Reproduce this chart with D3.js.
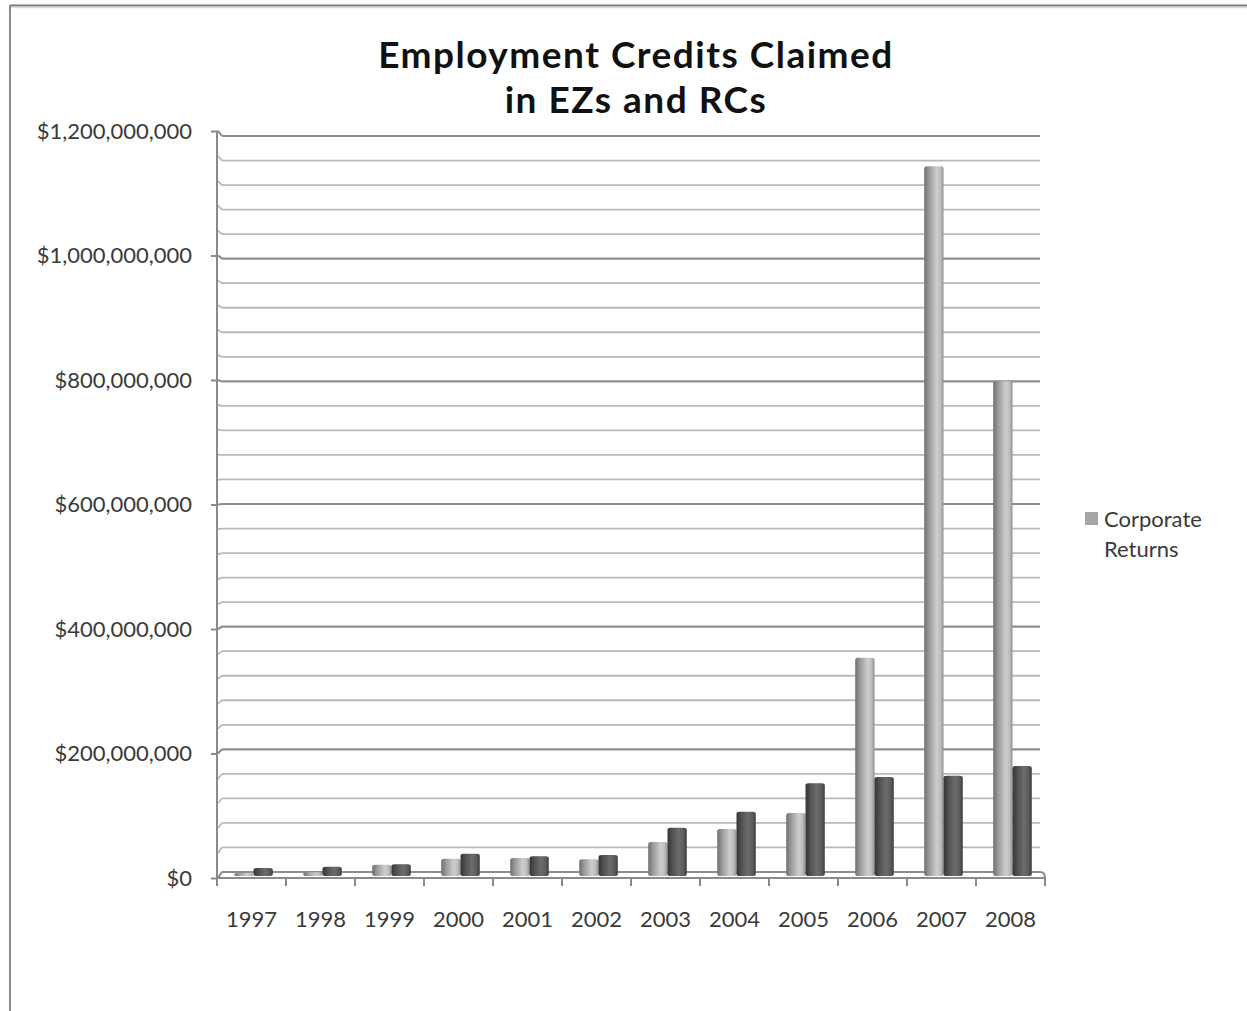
<!DOCTYPE html>
<html>
<head>
<meta charset="utf-8">
<script src="https://cdn.jsdelivr.net/npm/d3@7"></script>
<style>
html,body{margin:0;padding:0;background:#fff;}
svg{display:block;}
</style>
</head>
<body>
<svg id="chart" width="1247" height="1011"></svg>
<script>
const years = ["1997","1998","1999","2000","2001","2002","2003","2004","2005","2006","2007","2008"];
const corporateReturns = [5e6, 6e6, 18e6, 28e6, 29e6, 27e6, 55e6, 76e6, 102e6, 353e6, 1148e6, 800e6];
const otherReturns = [13e6, 15e6, 19e6, 36e6, 32e6, 34e6, 78e6, 104e6, 150e6, 160e6, 162e6, 178e6];
const yTickValues = [0, 200e6, 400e6, 600e6, 800e6, 1000e6, 1200e6];
const gridValues = d3.range(0, 1200e6 + 1, 40e6);
const titleLines = ["Employment Credits Claimed", "in EZs and RCs"];
const legendLabel = ["Corporate", "Returns"];

const svg = d3.select("#chart");
const font = "Lato, 'Open Sans', sans-serif";
const textColor = "#3a3a3a";

// outer frame
svg.append("line").attr("x1",10).attr("y1",5.5).attr("x2",1247).attr("y2",5.5).attr("stroke","#7a7a7a").attr("stroke-width",2);
svg.append("line").attr("x1",10).attr("y1",5).attr("x2",10).attr("y2",1011).attr("stroke","#8a8a8a").attr("stroke-width",2);
svg.append("line").attr("x1",11).attr("y1",7.5).attr("x2",1247).attr("y2",7.5).attr("stroke","#dcdcdc").attr("stroke-width",1.5);

// scales
const x = d3.scaleBand().domain(years).range([217, 1045]);
const bw = x.bandwidth();
const xSub = d3.scaleBand().domain(["corp","other"]).range([0, bw]).paddingInner(0).paddingOuter(0.79);
const yFront = d3.scaleLinear().domain([0, 1200e6]).range([878, 131]);
const yBack = d3.scaleLinear().domain([0, 1200e6]).range([872, 136]);
const yBar = d3.scaleLinear().domain([0, 1200e6]).range([876, 134]);

// gradients
const defs = svg.append("defs");
function grad(id, stops){
  const g = defs.append("linearGradient").attr("id", id).attr("x1","0%").attr("x2","100%").attr("y1","0%").attr("y2","0%");
  stops.forEach(s => g.append("stop").attr("offset", s[0]).attr("stop-color", s[1]));
}
grad("gLight", [["0%","#6f6f6f"],["25%","#9a9a9a"],["65%","#cdcdcd"],["85%","#bdbdbd"],["100%","#8e8e8e"]]);
grad("gDark", [["0%","#353535"],["30%","#555555"],["60%","#6c6c6c"],["85%","#5a5a5a"],["100%","#3c3c3c"]]);

// gridlines on back wall with connectors
const grid = svg.append("g");
gridValues.forEach(v => {
  const major = Math.round(v / 1e6) % 200 === 0;
  const yf = yFront(v), yb = yBack(v);
  grid.append("path")
    .attr("d", `M217,${yf} C220,${yf} 220,${yb} 223,${yb} L1040,${yb}`)
    .attr("fill","none")
    .attr("stroke", major ? "#8e8e8e" : "#b9b9b9")
    .attr("stroke-width", major ? 2.2 : 1.8);
});

// y axis
const yAxis = d3.axisLeft(yFront).tickValues(yTickValues).tickSize(6).tickPadding(19)
  .tickFormat(d => "$" + d3.format(",")(d));
const gy = svg.append("g").attr("transform","translate(217,0)").call(yAxis);
gy.select(".domain").remove();
gy.selectAll(".tick line").attr("stroke","#8a8a8a").attr("stroke-width",2);
gy.selectAll(".tick text").attr("font-family",font).attr("font-size",22).attr("fill",textColor);
svg.append("line").attr("x1",217).attr("y1",131).attr("x2",217).attr("y2",886).attr("stroke","#8a8a8a").attr("stroke-width",2);

// floor
svg.append("path").attr("d","M217,878 L1045,878").attr("stroke","#8a8a8a").attr("stroke-width",2).attr("fill","none");
svg.append("path").attr("d","M1040,872 C1044,872 1045,874 1045,878 L1045,886").attr("stroke","#8a8a8a").attr("stroke-width",2).attr("fill","none");

// x axis ticks and labels
const xAxis = d3.axisBottom(x).tickSize(0).tickPadding(33);
const gx = svg.append("g").attr("transform","translate(0,878)").call(xAxis);
gx.select(".domain").remove();
gx.selectAll(".tick text").attr("font-family",font).attr("font-size",22).attr("fill",textColor);
const bounds = years.map(y => x(y)).concat([x(years[years.length-1]) + bw]);
svg.append("g").selectAll("line").data(bounds).join("line")
  .attr("x1", d => d).attr("x2", d => d).attr("y1", 878).attr("y2", 886)
  .attr("stroke","#8a8a8a").attr("stroke-width",2);

// bars
const shift = 2;
const bars = svg.append("g");
function drawSeries(values, key, fill){
  bars.selectAll(null).data(values).join("rect")
    .attr("x", (d,i) => x(years[i]) + xSub(key) + shift)
    .attr("y", d => yBar(d))
    .attr("width", xSub.bandwidth())
    .attr("height", d => yBar(0) - yBar(d))
    .attr("rx", 3).attr("ry", 2)
    .attr("fill", fill);
}
drawSeries(corporateReturns, "corp", "url(#gLight)");
drawSeries(otherReturns, "other", "url(#gDark)");

// title (two separate lines)
svg.append("g").selectAll("text").data(titleLines).join("text")
  .attr("x",636).attr("y",(d,i) => 68 + i*45)
  .attr("text-anchor","middle")
  .attr("font-family",font).attr("font-weight","bold").attr("font-size",37)
  .attr("letter-spacing",1.5).attr("fill","#111")
  .text(d => d);

// legend
svg.append("rect").attr("x",1085).attr("y",512).attr("width",13).attr("height",13).attr("fill","#a6a6a6");
svg.append("g").selectAll("text").data(legendLabel).join("text")
  .attr("x",1104).attr("y",(d,i) => 527 + i*30)
  .attr("font-family",font).attr("font-size",22).attr("fill",textColor)
  .text(d => d);
</script>
</body>
</html>
